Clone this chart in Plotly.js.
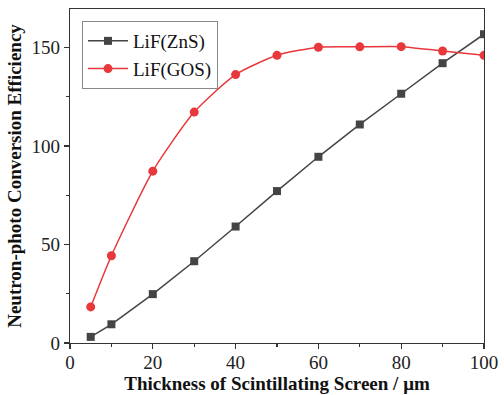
<!DOCTYPE html>
<html><head><meta charset="utf-8">
<script src="https://cdn.plot.ly/plotly-3.0.1.min.js"></script>
<style>body{margin:0;background:#fff}#c{width:504px;height:395px}</style>
</head><body><div id="c"></div>
<script>
const thickness = [5, 10, 20, 30, 40, 50, 60, 70, 80, 90, 100];
const zns = [3.1, 9.5, 24.8, 41.5, 59.1, 77.1, 94.5, 110.9, 126.5, 142.0, 156.7];
const gos = [18.3, 44.3, 87.2, 117.2, 136.2, 146.0, 150.1, 150.3, 150.4, 148.2, 146.0];
const xTicks = [0, 20, 40, 60, 80, 100];
const yTicks = [0, 50, 100, 150];

const font = 'Liberation Serif, Times New Roman, serif';
const traces = [
  {x: thickness, y: zns, name: 'LiF(ZnS)', mode: 'lines+markers', type: 'scatter',
   line: {color: '#444444', width: 1.5}, marker: {symbol: 'square', size: 8, color: '#444444'}},
  {x: thickness, y: gos, name: 'LiF(GOS)', mode: 'lines+markers', type: 'scatter',
   line: {color: '#e8383b', width: 1.5, shape: 'spline', smoothing: 0.6}, marker: {symbol: 'circle', size: 9, color: '#e8383b'}}
];
const axisCommon = {
  showgrid: false, zeroline: false, showline: true, linecolor: '#333', linewidth: 1.2, mirror: true,
  ticks: 'outside', ticklen: 5, tickwidth: 1.2, tickcolor: '#333',
  tickfont: {family: font, size: 19, color: '#222'},
  minor: {ticks: 'outside', ticklen: 3, tickwidth: 1.2, tickcolor: '#333'}
};
const layout = {
  width: 504, height: 395,
  margin: {l: 70, r: 20, t: 9, b: 52},
  paper_bgcolor: '#fff', plot_bgcolor: '#fff',
  showlegend: true,
  legend: {x: 0.029, y: 0.964, xanchor: 'left', yanchor: 'top', bordercolor: '#888', borderwidth: 1,
    bgcolor: '#fff', font: {family: font, size: 19, color: '#111'}, tracegroupgap: 0, itemwidth: 40},
  xaxis: Object.assign({}, axisCommon, {range: [0, 100], tickvals: xTicks, ticktext: xTicks.map(String),
    ticklabelstandoff: -3,
    minor: Object.assign({}, axisCommon.minor, {dtick: 10, tick0: 0}),
    title: {text: '<b>Thickness of Scintillating Screen / μm</b>', font: {family: font, size: 19, color: '#111'}, standoff: 0}}),
  yaxis: Object.assign({}, axisCommon, {range: [0, 169.5], tickvals: yTicks, ticktext: yTicks.map(String),
    ticklabelstandoff: 0,
    minor: Object.assign({}, axisCommon.minor, {dtick: 25, tick0: 0}),
    title: {text: '<b>Neutron-photo Conversion Efficiency</b>', font: {family: font, size: 19, color: '#111'}, standoff: 4}})
};
Plotly.newPlot('c', traces, layout, {displayModeBar: false, staticPlot: true});
</script></body></html>
